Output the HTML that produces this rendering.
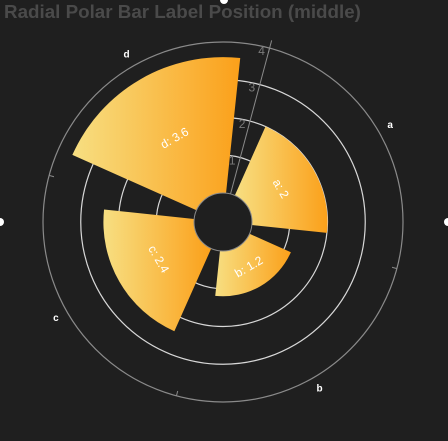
<!DOCTYPE html>
<html><head><meta charset="utf-8"><style>
html,body{margin:0;padding:0;background:#1f1f1f;}
svg{display:block;font-family:"Liberation Sans",sans-serif;}
</style></head><body>
<svg id="chart" width="448" height="441" viewBox="0 0 448 441">
<rect width="448" height="441" fill="#1f1f1f"/>
<text x="4" y="18" font-size="18.8" font-weight="bold" fill="#4a4a4a">Radial Polar Bar Label Position (middle)</text>
<circle cx="0" cy="222" r="4" fill="#fff"/>
<circle cx="448" cy="222" r="4" fill="#fff"/>
<circle cx="224" cy="0" r="4" fill="#fff"/>
<defs>
<linearGradient id="grad" x1="0" y1="0" x2="1" y2="0">
<stop offset="0" stop-color="#f7df82"/><stop offset="1" stop-color="#fba01a"/>
</linearGradient>
</defs>
<g id="grid"></g><g id="bars"></g><g id="axes"></g>
</svg>
<script>
const categories = ['a','b','c','d'];
const values = [2, 1.2, 2.4, 3.6];
const radiusTicks = [1, 2, 3, 4];
const NS='http://www.w3.org/2000/svg';
const cx=223, cy=222, r0=29, rMax=180, vMax=4, startAngle=75;
function rScale(v){return r0+(rMax-r0)*v/vMax;}
function aScale(i){return startAngle-(i+0.5)*360/categories.length;}
function pt(r,a){const t=a*Math.PI/180;return [cx+r*Math.cos(t), cy-r*Math.sin(t)];}
function mk(tag,attrs,parent){const e=document.createElementNS(NS,tag);for(const k in attrs)e.setAttribute(k,attrs[k]);parent.appendChild(e);return e;}
const grid=document.getElementById('grid'), bars=document.getElementById('bars'), axes=document.getElementById('axes');
radiusTicks.forEach(v=>{
  const c=mk('circle',{cx:cx,cy:cy,r:rScale(v),fill:'none',stroke:v===vMax?'#8a8a8a':'#d8d8d8','stroke-width':1.2},grid);
  
  
});
categories.forEach((c,i)=>{
  const step=360/categories.length, half=step*0.8/2, a=aScale(i);
  const ri=r0, ro=rScale(values[i]);
  const p1=pt(ro,a+half), p2=pt(ro,a-half), p3=pt(ri,a-half), p4=pt(ri,a+half);
  const d=`M${p1[0]},${p1[1]} A${ro},${ro} 0 0 1 ${p2[0]},${p2[1]} L${p3[0]},${p3[1]} A${ri},${ri} 0 0 0 ${p4[0]},${p4[1]} Z`;
  const path=mk('path',{d:d,fill:'url(#grad)'},bars);
  
  
  const m=pt((ri+ro)/2,a);
  let rot=90-a; while(rot>90)rot-=180; while(rot<-90)rot+=180;
  const t=mk('text',{x:m[0],y:m[1],fill:'#fff','font-size':12,'text-anchor':'middle','dominant-baseline':'central',transform:`rotate(${rot} ${m[0]} ${m[1]})`},bars);
  t.textContent=c+': '+values[i];
  
  
  const lp=pt(rMax+13,a);
  const lt=mk('text',{x:lp[0],y:lp[1],fill:'#fff','font-size':10,'font-weight':'bold','text-anchor':'middle','dominant-baseline':'central'},axes);
  lt.textContent=c;
  
  
  const ba=startAngle-i*step, t1=pt(rMax,ba), t2=pt(rMax-5,ba);
  const tk=mk('line',{x1:t1[0],y1:t1[1],x2:t2[0],y2:t2[1],stroke:'#8a8a8a'},axes);
  
  
});
const hole=mk('circle',{cx:cx,cy:cy,r:r0,fill:'none',stroke:'#8a8a8a','stroke-width':1},axes);


const e1=pt(r0,startAngle), e2=pt(rMax+8,startAngle);
const ax=mk('line',{x1:e1[0],y1:e1[1],x2:e2[0],y2:e2[1],stroke:'#8a8a8a'},axes);


radiusTicks.forEach(v=>{
  const p=pt(rScale(v),startAngle);
  const t=mk('text',{x:p[0]-8,y:p[1]+3,fill:'#7a7a7a','font-size':12,'text-anchor':'middle','dominant-baseline':'central'},axes);
  t.textContent=v;
  
  
});
</script>
</body></html>
